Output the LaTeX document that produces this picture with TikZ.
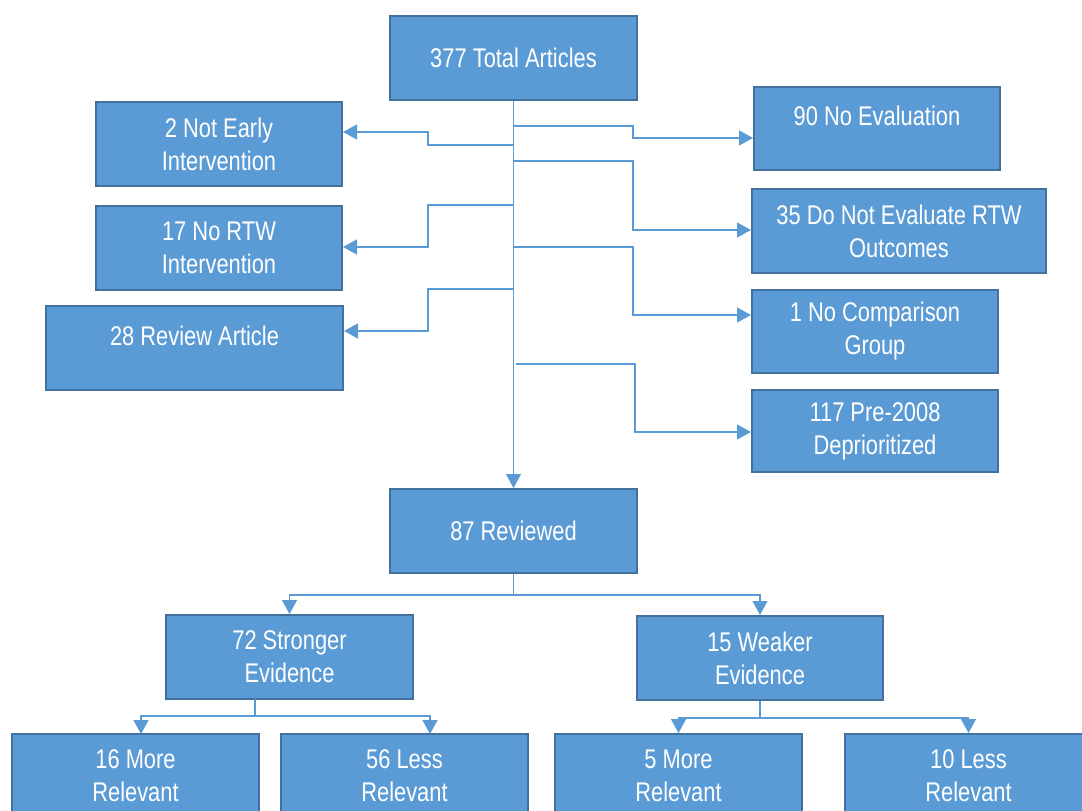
\documentclass[tikz,border=0pt]{standalone}
\usepackage{fontspec}
\setmainfont[FakeStretch=0.81]{Liberation Sans}
\usetikzlibrary{arrows.meta,calc}
\definecolor{boxfill}{HTML}{5B9BD5}
\definecolor{boxline}{HTML}{41719C}
\definecolor{conn}{HTML}{5B9BD5}
\begin{document}
\begin{tikzpicture}[x=1pt,y=-1pt,
  box/.style={draw=boxline,line width=2pt,fill=boxfill,text=white,inner sep=0pt,
    minimum height=84pt,align=center,font=\fontsize{27}{33}\selectfont},
  conline/.style={draw=conn,line width=1.3pt},
  arr/.style={conline,-{Triangle[length=14pt,width=15pt]}}]
\useasboundingbox (0,0) rectangle (1082,811);
\clip (0,0) rectangle (1082,811);
% boxes
\node[box,minimum width=247pt] (total) at (513.5,57.5) {377 Total Articles};
\node[box,minimum width=246pt] (nei) at (219,144) {2 Not Early\\Intervention};
\node[box,minimum width=246pt] (nrtw) at (219,248) {17 No RTW\\Intervention};
\node[box,minimum width=297pt] (rart) at (194.5,348) {28 Review Article\\[-8pt]\phantom{x}};
\node[box,minimum width=246pt,minimum height=83pt] (noeval) at (877,128.5) {90 No Evaluation\\[-8pt]\phantom{x}};
\node[box,minimum width=294pt] (dne) at (899,231) {35 Do Not Evaluate RTW\\Outcomes};
\node[box,minimum width=246pt,minimum height=83pt] (ncg) at (875,331.5) {1 No Comparison\\Group};
\node[box,minimum width=246pt,minimum height=82pt] (pre) at (875,431) {117 Pre-2008\\Deprioritized};
\node[box,minimum width=247pt] (rev) at (513.5,531) {87 Reviewed};
\node[box,minimum width=247pt] (strong) at (289.5,657) {72 Stronger\\Evidence};
\node[box,minimum width=246pt] (weak) at (760,658) {15 Weaker\\Evidence};
\node[box,minimum width=247pt] (m1) at (135.5,776) {16 More\\Relevant};
\node[box,minimum width=247pt] (l1) at (404.5,776) {56 Less\\Relevant};
\node[box,minimum width=247pt] (m2) at (678.5,776) {5 More\\Relevant};
\node[box,minimum width=247pt] (l2) at (968.5,776) {10 Less\\Relevant};
% trunk
\draw[arr] (total.south) -- (rev.north);
% branch points on trunk
\coordinate (r1) at (513,126);
\coordinate (r2) at (513,161);
\coordinate (r3) at (513,247);
\coordinate (r4) at (516,364);
\coordinate (b1) at (513,145);
\coordinate (b2) at (513,205);
\coordinate (b3) at (513,289);
% elbows
\coordinate (er1) at (633,138);
\coordinate (er2) at (633,230);
\coordinate (er3) at (633,315);
\coordinate (er4) at (635,432);
\coordinate (el1) at (428,132);
\coordinate (el2) at (428,247);
\coordinate (el3) at (428,331);
\draw[arr] (r1) -| (er1) -- (er1 -| noeval.west);
\draw[arr] (r2) -| (er2) -- (er2 -| dne.west);
\draw[arr] (r3) -| (er3) -- (er3 -| ncg.west);
\draw[arr] (r4) -| (er4) -- (er4 -| pre.west);
\draw[arr] (b1) -| (el1) -- (el1 -| nei.east);
\draw[arr] (b2) -| (el2) -- (el2 -| nrtw.east);
\draw[arr] (b3) -| (el3) -- (el3 -| rart.east);
% reviewed split
\draw[arr] (rev.south) -- ++(0,21) -| (strong.north);
\draw[arr] (rev.south) -- ++(0,21) -| (weak.north);
% stronger split
\coordinate (ss) at (255,699);
\coordinate (sa) at (141,734);
\coordinate (sb) at (430,734);
\draw[arr] (ss) -- ++(0,17) -| (sa);
\draw[arr] (ss) -- ++(0,17) -| (sb);
% weaker split
\draw[arr] (weak.south) -- ++(0,17) -| (m2.north);
\draw[arr] (weak.south) -- ++(0,17) -| (l2.north);
\end{tikzpicture}
\end{document}
